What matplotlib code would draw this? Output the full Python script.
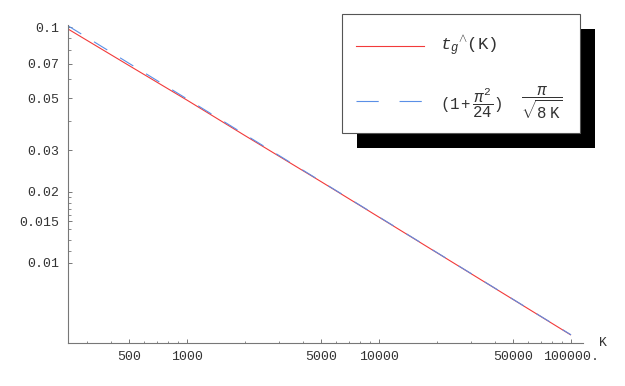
import matplotlib
matplotlib.use("Agg")
import matplotlib.pyplot as plt
from matplotlib.patches import Rectangle
from matplotlib.lines import Line2D
from matplotlib.ticker import FixedLocator, NullFormatter

plt.rcParams['mathtext.fontset'] = 'custom'
plt.rcParams['mathtext.rm'] = 'Liberation Mono'
plt.rcParams['mathtext.it'] = 'Liberation Mono:italic'
plt.rcParams['lines.scale_dashes'] = False

# data
K = [240, 500, 1000, 2000, 5000, 10000, 20000, 50000, 100000]
t_g = [0.0981, 0.0686, 0.0490, 0.0347, 0.02210, 0.01564, 0.01106, 0.00700, 0.00495]
approx = [0.1012, 0.0701, 0.04957, 0.03505, 0.02217, 0.01568, 0.01108, 0.00701, 0.00496]

x_major = [500, 1000, 5000, 10000, 50000, 100000]
x_major_labels = ["500", "1000", "5000", "10000", "50000", "100000."]
x_minor = [300, 400, 600, 700, 800, 900, 2000, 3000, 4000, 6000, 7000, 8000, 9000,
           20000, 30000, 40000, 60000, 70000, 80000, 90000]
y_major = [0.01, 0.015, 0.02, 0.03, 0.05, 0.07, 0.1]
y_major_labels = ["0.01", "0.015", "0.02", "0.03", "0.05", "0.07", "0.1"]
y_minor = [0.0112, 0.0125, 0.014, 0.016, 0.017, 0.018, 0.019, 0.04, 0.06, 0.08, 0.09]

W, H = 625, 386
fig = plt.figure(figsize=(W / 100, H / 100), dpi=100)
ax = fig.add_axes([68 / W, 1 - 343 / H, (583 - 68) / W, (343 - 25) / H])
ax.set_xscale('log')
ax.set_yscale('log')
ax.set_xlim(240, 115500)
ax.set_ylim(0.00458, 0.1020)

red = '#f23a3a'
blue = '#5a8fe6'
ax.plot(K, t_g, color=red, lw=0.8, solid_capstyle='butt')
ax.plot(K, approx, color=blue, lw=0.8, dashes=(11.2, 10.8))

for s in ['top', 'right']:
    ax.spines[s].set_visible(False)
axcol = '#777777'
for s in ['left', 'bottom']:
    ax.spines[s].set_color(axcol)
    ax.spines[s].set_linewidth(0.8)

ax.xaxis.set_major_locator(FixedLocator(x_major))
ax.set_xticklabels(x_major_labels)
ax.xaxis.set_minor_locator(FixedLocator(x_minor))
ax.xaxis.set_minor_formatter(NullFormatter())
ax.yaxis.set_major_locator(FixedLocator(y_major))
ax.set_yticklabels(y_major_labels)
ax.yaxis.set_minor_locator(FixedLocator(y_minor))
ax.yaxis.set_minor_formatter(NullFormatter())

tfont = dict(family='Liberation Mono', size=9.5)
ax.tick_params(which='major', direction='in', length=3, width=0.7, color=axcol,
               labelcolor='#333333', pad=6)
ax.tick_params(which='minor', direction='in', length=1.8, width=0.6, color=axcol)
for lab in ax.get_xticklabels() + ax.get_yticklabels():
    lab.set_fontfamily('Liberation Mono')
    lab.set_fontsize(9.5)

fig.text(603 / W, 1 - 343 / H, "K", ha='center', va='center', color='#333333', **tfont)

# legend box with shadow
def fx(px):
    return px / W

def fy(py):
    return 1 - py / H

fig.add_artist(Rectangle((fx(357), fy(148)), (595 - 357) / W, (148 - 29) / H,
                         transform=fig.transFigure, facecolor='black', edgecolor='black', lw=0))
fig.add_artist(Rectangle((fx(342), fy(133)), (580 - 342) / W, (133 - 14) / H,
                         transform=fig.transFigure, facecolor='white', edgecolor='#555555', lw=0.8))
fig.add_artist(Line2D([fx(356), fx(424)], [fy(46), fy(46)], transform=fig.transFigure,
                      color=red, lw=0.8))
fig.add_artist(Line2D([fx(356), fx(424)], [fy(101), fy(101)], transform=fig.transFigure,
                      color=blue, lw=0.8, dashes=(16, 15)))
fig.text(fx(440), fy(46), r"$t_g{}^{\wedge}$(K)", ha='left', va='center', color='#333333',
         family='Liberation Mono', size=12.5)
fig.text(fx(440), fy(103), r"$(1+\dfrac{\pi^2}{24})$",
         ha='left', va='center', color='#333333', size=11.3)
fig.text(fx(521), fy(103), r"$\dfrac{\pi}{\sqrt{8\ \mathrm{K}}}$",
         ha='left', va='center', color='#333333', size=11.3)

fig.savefig('out.png', dpi=100)
